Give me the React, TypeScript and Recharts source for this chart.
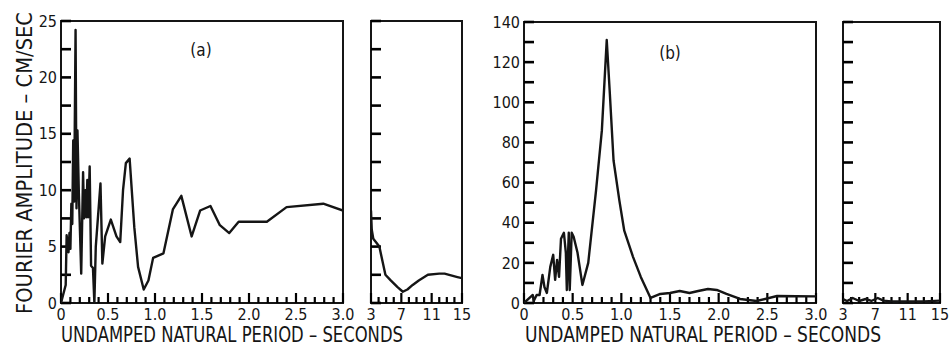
import React from "react";
import { LineChart, Line, XAxis, YAxis, ReferenceArea, ReferenceLine } from "recharts";

const INK = "#151515";
const TICK_INK = "#000000";
const FONT = "'Liberation Sans Narrow', 'DejaVu Sans Condensed', 'Liberation Sans', sans-serif";
const TICK_MARGIN = 6;

// (a) short periods, 0 - 3 sec
const aShort = [
  { t: 0, amp: 0 }, { t: 0.05, amp: 1.6 }, { t: 0.06, amp: 6.0 }, { t: 0.08, amp: 4.5 },
  { t: 0.09, amp: 6.2 }, { t: 0.1, amp: 4.8 }, { t: 0.11, amp: 8.8 }, { t: 0.12, amp: 7.0 },
  { t: 0.13, amp: 14.4 }, { t: 0.14, amp: 9.0 }, { t: 0.155, amp: 24.2 }, { t: 0.165, amp: 8.4 },
  { t: 0.175, amp: 15.3 }, { t: 0.19, amp: 9.7 }, { t: 0.215, amp: 2.6 }, { t: 0.235, amp: 11.6 },
  { t: 0.245, amp: 7.5 }, { t: 0.26, amp: 10.0 }, { t: 0.27, amp: 7.6 }, { t: 0.28, amp: 10.9 },
  { t: 0.29, amp: 7.6 }, { t: 0.305, amp: 12.1 }, { t: 0.32, amp: 3.3 }, { t: 0.34, amp: 3.1 },
  { t: 0.355, amp: 0 }, { t: 0.37, amp: 5.0 }, { t: 0.42, amp: 10.6 }, { t: 0.44, amp: 3.5 },
  { t: 0.47, amp: 5.9 }, { t: 0.53, amp: 7.4 }, { t: 0.59, amp: 5.9 }, { t: 0.63, amp: 5.4 },
  { t: 0.66, amp: 10.0 }, { t: 0.69, amp: 12.4 }, { t: 0.73, amp: 12.8 }, { t: 0.78, amp: 6.7 },
  { t: 0.82, amp: 3.2 }, { t: 0.88, amp: 1.2 }, { t: 0.93, amp: 2.0 }, { t: 0.98, amp: 4.0 },
  { t: 1.09, amp: 4.4 }, { t: 1.19, amp: 8.3 }, { t: 1.28, amp: 9.5 }, { t: 1.39, amp: 5.9 },
  { t: 1.48, amp: 8.2 }, { t: 1.59, amp: 8.6 }, { t: 1.69, amp: 6.9 }, { t: 1.79, amp: 6.2 },
  { t: 1.89, amp: 7.2 }, { t: 2.19, amp: 7.2 }, { t: 2.4, amp: 8.5 }, { t: 2.79, amp: 8.8 },
  { t: 3.0, amp: 8.2 },
];

// (a) long periods, 3 - 15 sec
const aLong = [
  { t: 3, amp: 8.2 }, { t: 3.1, amp: 6.5 }, { t: 3.3, amp: 5.7 }, { t: 4.1, amp: 5.0 },
  { t: 4.9, amp: 2.5 }, { t: 5.6, amp: 2.0 }, { t: 6.5, amp: 1.4 }, { t: 7.2, amp: 1.0 },
  { t: 7.8, amp: 1.2 }, { t: 8.5, amp: 1.6 }, { t: 9.3, amp: 2.0 }, { t: 10.5, amp: 2.5 },
  { t: 12.0, amp: 2.6 }, { t: 12.7, amp: 2.6 }, { t: 14.4, amp: 2.3 }, { t: 15, amp: 2.2 },
];

// (b) short periods, 0 - 3 sec
const bShort = [
  { t: 0, amp: 0 }, { t: 0.09, amp: 4 }, { t: 0.1, amp: 1 }, { t: 0.13, amp: 4 },
  { t: 0.16, amp: 4 }, { t: 0.19, amp: 14 }, { t: 0.21, amp: 8 }, { t: 0.235, amp: 5 },
  { t: 0.27, amp: 18 }, { t: 0.3, amp: 24 }, { t: 0.32, amp: 11.5 }, { t: 0.34, amp: 21.5 },
  { t: 0.36, amp: 13 }, { t: 0.38, amp: 32 }, { t: 0.41, amp: 35 }, { t: 0.43, amp: 25 },
  { t: 0.44, amp: 6.5 }, { t: 0.46, amp: 35 }, { t: 0.47, amp: 6.5 }, { t: 0.49, amp: 35 },
  { t: 0.51, amp: 33 }, { t: 0.55, amp: 25 }, { t: 0.6, amp: 9 }, { t: 0.66, amp: 20 },
  { t: 0.74, amp: 56 }, { t: 0.8, amp: 86 }, { t: 0.85, amp: 131 }, { t: 0.88, amp: 106 },
  { t: 0.92, amp: 71 }, { t: 0.98, amp: 51 }, { t: 1.03, amp: 36 }, { t: 1.12, amp: 23 },
  { t: 1.2, amp: 13 }, { t: 1.3, amp: 2.5 }, { t: 1.4, amp: 4.5 }, { t: 1.5, amp: 5 },
  { t: 1.6, amp: 6 }, { t: 1.7, amp: 5 }, { t: 1.79, amp: 6 }, { t: 1.89, amp: 7 },
  { t: 1.98, amp: 6.5 }, { t: 2.08, amp: 4.5 }, { t: 2.22, amp: 2 }, { t: 2.39, amp: 1 },
  { t: 2.6, amp: 3.5 }, { t: 3.0, amp: 3.3 },
];

// (b) long periods, 3 - 15 sec
const bLong = [
  { t: 3, amp: 2 }, { t: 3.5, amp: 1 }, { t: 4.2, amp: 2.5 }, { t: 5, amp: 1 },
  { t: 5.8, amp: 2 }, { t: 6.5, amp: 1 }, { t: 7.3, amp: 2.5 }, { t: 8, amp: 1.2 },
  { t: 9, amp: 0.8 }, { t: 11, amp: 0.8 }, { t: 13, amp: 0.8 }, { t: 15, amp: 1.2 },
];

const shortLabels = [0, 0.5, 1.0, 1.5, 2.0, 2.5, 3.0];
const longLabels = [3, 7, 11, 15];
const aYLabels = [0, 5, 10, 15, 20, 25];
const bYLabels = [0, 20, 40, 60, 80, 100, 120, 140];

const steps = (from: number, to: number, step: number) => {
  const out: number[] = [];
  for (let v = from; v <= to + 1e-9; v += step) out.push(Math.round(v * 100) / 100);
  return out;
};

const shortTicks = steps(0, 3, 0.1);
const longTicks = steps(3, 15, 1);
const aYTicks = steps(0, 25, 2.5);
const bYTicks = steps(0, 140, 10);

const has = (list: number[], v: number) => list.some((l) => Math.abs(l - v) < 1e-6);

function xLabel(labels: number[], fmt: (v: number) => string) {
  return (props: any) => {
    const { x, y, payload } = props;
    const v = payload.value;
    return (
      <text x={x} y={y - TICK_MARGIN + 17} textAnchor="middle" fontSize={16} fill={INK} fontFamily={FONT}>
        {has(labels, v) ? fmt(v) : ""}
      </text>
    );
  };
}

type PanelProps = {
  left: number;
  width: number;
  yAxisWidth: number;
  marginRight: number;
  top: number;
  data: { t: number; amp: number }[];
  xDomain: [number, number];
  yDomain: [number, number];
  xTicks: number[];
  xLabels: number[];
  xFmt: (v: number) => string;
  yTicks: number[];
  yLabels: number[];
};

const HEIGHT = 335;
const PLOT_BOTTOM = 303;

function Panel(p: PanelProps) {
  const plotW = p.width - p.yAxisWidth - p.marginRight;
  const plotH = PLOT_BOTTOM - p.top;
  const [x0, x1] = p.xDomain;
  const [y0, y1] = p.yDomain;
  // inward tick lengths, converted from pixels into data units
  const yTickLen = (10 * (x1 - x0)) / plotW;
  const xMinor = (6 * (y1 - y0)) / plotH;
  const xMajor = (10 * (y1 - y0)) / plotH;

  return (
    <div style={{ position: "absolute", left: p.left, top: 0 }}>
      <LineChart
        width={p.width}
        height={HEIGHT}
        data={p.data}
        margin={{ top: p.top, right: p.marginRight, left: 0, bottom: 0 }}
      >
        <XAxis
          type="number"
          dataKey="t"
          domain={p.xDomain}
          ticks={p.xTicks}
          interval={0}
          height={HEIGHT - PLOT_BOTTOM}
          tickSize={0}
          tickMargin={TICK_MARGIN}
          tickLine={false}
          axisLine={false}
          tick={xLabel(p.xLabels, p.xFmt)}
          allowDataOverflow
        />
        <YAxis
          type="number"
          dataKey="amp"
          domain={p.yDomain}
          ticks={p.yTicks}
          interval={0}
          width={p.yAxisWidth}
          tickSize={0}
          tickMargin={4}
          tickLine={false}
          axisLine={false}
          tick={{ fontSize: 16, fill: INK, fontFamily: FONT }}
          tickFormatter={(v: number) => (has(p.yLabels, v) ? String(v) : "")}
          allowDataOverflow
        />
        <ReferenceArea x1={x0} x2={x1} y1={y0} y2={y1} fill="none" fillOpacity={0} stroke={INK} strokeWidth={2} />
        {p.yTicks.map((v) => (
          <ReferenceLine
            key={`y${v}`}
            segment={[{ x: x0, y: v }, { x: x0 + yTickLen, y: v }]}
            stroke={TICK_INK}
            strokeWidth={2.6}
          />
        ))}
        {p.xTicks.map((v) => (
          <ReferenceLine
            key={`x${v}`}
            segment={[{ x: v, y: y0 }, { x: v, y: y0 + (has(p.xLabels, v) ? xMajor : xMinor) }]}
            stroke={TICK_INK}
            strokeWidth={2.2}
          />
        ))}
        <Line
          type="linear"
          dataKey="amp"
          stroke={INK}
          strokeWidth={2.4}
          strokeLinejoin="round"
          dot={false}
          isAnimationActive={false}
        />
      </LineChart>
    </div>
  );
}

const fmtShort = (v: number) => (v === 0 ? "0" : v.toFixed(1));
const fmtLong = (v: number) => String(v);

export default function App() {
  return (
    <div style={{ position: "absolute", left: 0, top: 0, width: 949, height: 350, background: "#fff", overflow: "hidden" }}>
      <Panel left={0} width={360} yAxisWidth={61} marginRight={17} top={21} data={aShort}
        xDomain={[0, 3]} yDomain={[0, 25]} xTicks={shortTicks} xLabels={shortLabels} xFmt={fmtShort}
        yTicks={aYTicks} yLabels={aYLabels} />
      <Panel left={362} width={110} yAxisWidth={9} marginRight={10} top={21} data={aLong}
        xDomain={[3, 15]} yDomain={[0, 25]} xTicks={longTicks} xLabels={longLabels} xFmt={fmtLong}
        yTicks={aYTicks} yLabels={[]} />
      <Panel left={475} width={362} yAxisWidth={49} marginRight={21} top={22} data={bShort}
        xDomain={[0, 3]} yDomain={[0, 140]} xTicks={shortTicks} xLabels={shortLabels} xFmt={fmtShort}
        yTicks={bYTicks} yLabels={bYLabels} />
      <Panel left={832} width={117} yAxisWidth={11} marginRight={9} top={22} data={bLong}
        xDomain={[3, 15]} yDomain={[0, 140]} xTicks={longTicks} xLabels={longLabels} xFmt={fmtLong}
        yTicks={bYTicks} yLabels={[]} />
      <svg width={949} height={350} style={{ position: "absolute", left: 0, top: 0, pointerEvents: "none" }}>
        <text
          transform="translate(32,163) rotate(-90)"
          textAnchor="middle"
          fontSize={22}
          fill={INK}
          fontFamily={FONT}
          textLength={302}
          lengthAdjust="spacingAndGlyphs"
        >
          FOURIER AMPLITUDE – CM/SEC
        </text>
        <text x={232} y={342} textAnchor="middle" fontSize={21} fill={INK} fontFamily={FONT}
          textLength={342} lengthAdjust="spacingAndGlyphs">
          UNDAMPED NATURAL PERIOD – SECONDS
        </text>
        <text x={703} y={342} textAnchor="middle" fontSize={21} fill={INK} fontFamily={FONT}
          textLength={356} lengthAdjust="spacingAndGlyphs">
          UNDAMPED NATURAL PERIOD – SECONDS
        </text>
        <text x={201} y={56} textAnchor="middle" fontSize={17} fill={INK} fontFamily={FONT}>(a)</text>
        <text x={670} y={59} textAnchor="middle" fontSize={17} fill={INK} fontFamily={FONT}>(b)</text>
      </svg>
    </div>
  );
}
